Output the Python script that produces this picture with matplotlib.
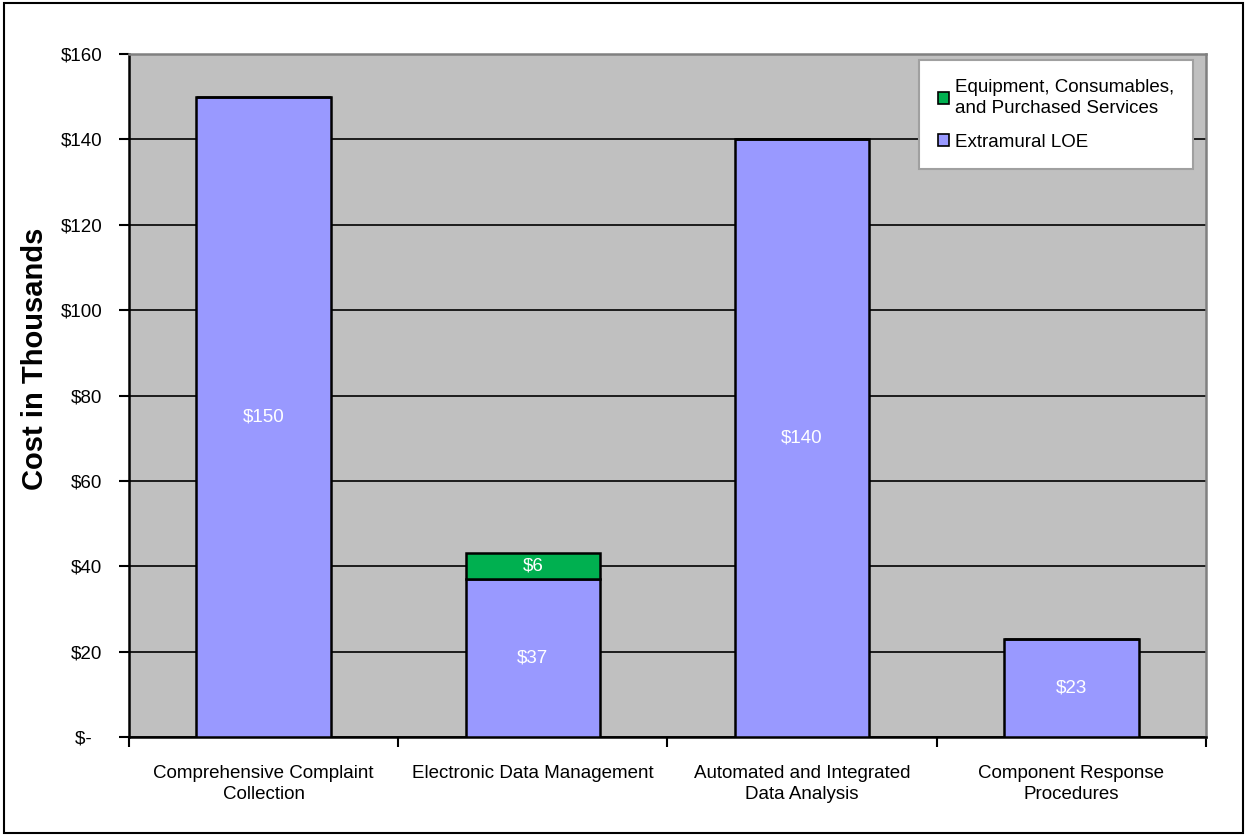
import numpy as np
import matplotlib.pyplot as plt
from matplotlib.patches import Rectangle, Patch
from matplotlib.ticker import FuncFormatter

plt.rcParams['font.family'] = ['Liberation Sans', 'DejaVu Sans']

# ------------------------------------------------------------
# data (thousands of dollars)
# ------------------------------------------------------------
categories = ["Comprehensive Complaint\nCollection",
              "Electronic Data Management",
              "Automated and Integrated\nData Analysis",
              "Component Response\nProcedures"]
extramural_loe = [150, 37, 140, 23]
equipment = [0, 6, 0, 0]

LOE_COLOR = "#9999FF"
EQUIP_COLOR = "#00B050"
PLOT_BG = "#C0C0C0"

fig = plt.figure(figsize=(12.47, 8.36), dpi=100)
ax = fig.add_axes([0.1034, 0.1184, 0.8637, 0.817])

# outer chart border
fig.patches.append(Rectangle((0.003, 0.004), 0.994, 0.992, transform=fig.transFigure,
                             fill=False, edgecolor="black", linewidth=1.5))

x = np.arange(len(categories))
width = 0.5

ax.set_facecolor(PLOT_BG)
ax.set_axisbelow(True)
ax.yaxis.grid(True, color="black", linewidth=1.2)

ax.bar(x, extramural_loe, width, color=LOE_COLOR, edgecolor="black", linewidth=1.8, zorder=3)
ax.bar(x, equipment, width, bottom=extramural_loe, color=EQUIP_COLOR,
       edgecolor="black", linewidth=1.8, zorder=3)

# value labels in the middle of each segment
for i in range(len(categories)):
    if extramural_loe[i] > 0:
        ax.text(x[i], extramural_loe[i] / 2, f"${extramural_loe[i]}", ha="center", va="center",
                color="white", fontsize=13.5, zorder=4)
    if equipment[i] > 0:
        ax.text(x[i], extramural_loe[i] + equipment[i] / 2, f"${equipment[i]}", ha="center",
                va="center", color="white", fontsize=13.5, zorder=4)

ax.set_xlim(-0.5, len(categories) - 0.5)
ax.set_ylim(0, 160)
ax.set_yticks(np.arange(0, 161, 20))
ax.yaxis.set_major_formatter(FuncFormatter(lambda v, p: "$-  " if v == 0 else f"${v:.0f}"))

# category boundaries carry the ticks, labels sit at the centres
ax.set_xticks(np.arange(-0.5, len(categories), 1.0))
ax.set_xticklabels([])
ax.set_xticks(x, minor=True)
ax.set_xticklabels(categories, minor=True, fontsize=13.5)
ax.tick_params(axis="x", which="minor", length=0, pad=20)
ax.tick_params(axis="x", which="major", length=7, width=1.5, direction="out")
ax.tick_params(axis="y", length=7, width=1.5, labelsize=13.5, pad=12)

for lbl in ax.get_xticklabels(minor=True):
    lbl.set_linespacing(1.35)

ax.spines["left"].set_linewidth(1.8)
ax.spines["bottom"].set_linewidth(1.8)
ax.spines["top"].set_color("#808080")
ax.spines["top"].set_linewidth(1.8)
ax.spines["right"].set_color("#808080")
ax.spines["right"].set_linewidth(1.8)

ax.set_ylabel("Cost in Thousands", fontsize=21, fontweight="bold")
ax.yaxis.set_label_coords(-0.074, 0.553)

handles = [Patch(facecolor=EQUIP_COLOR, edgecolor="black", linewidth=1.2,
                 label="Equipment, Consumables,\nand Purchased Services"),
           Patch(facecolor=LOE_COLOR, edgecolor="black", linewidth=1.2,
                 label="Extramural LOE")]
leg = ax.legend(handles=handles, loc="upper left", bbox_to_anchor=(0.734, 0.991),
                fontsize=13.5, frameon=True, fancybox=False, handlelength=0.6,
                handleheight=0.6, handletextpad=0.3, borderpad=1.0, labelspacing=0.9,
                borderaxespad=0)
leg.get_frame().set_facecolor("white")
leg.get_frame().set_edgecolor("#A0A0A0")
leg.get_frame().set_linewidth(1.5)
leg.get_frame().set_alpha(1)
leg.set_zorder(5)
for t in leg.get_texts():
    t.set_linespacing(1.3)

fig.savefig("out.png", dpi=100)
